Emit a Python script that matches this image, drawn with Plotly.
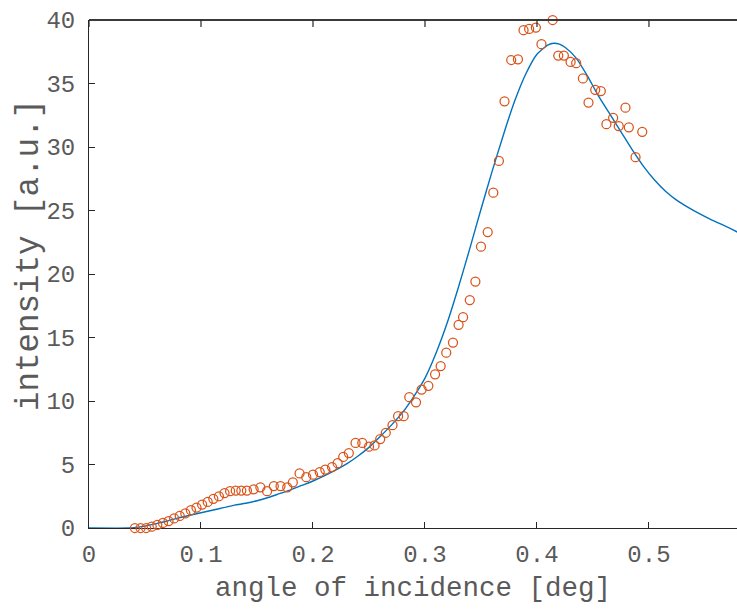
import plotly.graph_objects as go

# Measured reflectivity points (angle in deg, intensity in a.u.)
angle_meas = [0.041, 0.046, 0.051, 0.056, 0.061, 0.066, 0.071, 0.076, 0.081, 0.086,
              0.091, 0.096, 0.101, 0.106, 0.111, 0.116, 0.121, 0.126, 0.131, 0.136,
              0.141, 0.147, 0.153, 0.159, 0.165, 0.171, 0.177, 0.182, 0.188, 0.194,
              0.200, 0.206, 0.211, 0.217, 0.222, 0.227, 0.232, 0.238, 0.244, 0.250,
              0.255, 0.260, 0.265, 0.271, 0.276, 0.281, 0.286, 0.292, 0.297, 0.303,
              0.309, 0.314, 0.319, 0.325, 0.330, 0.334, 0.340, 0.345, 0.350, 0.356,
              0.361, 0.366, 0.371, 0.377, 0.383, 0.388, 0.393, 0.399, 0.404, 0.409,
              0.414, 0.419, 0.424, 0.430, 0.435, 0.441, 0.446, 0.452, 0.457, 0.462,
              0.468, 0.473, 0.479, 0.482, 0.488, 0.494]
intensity_meas = [0.0, 0.0, 0.0, 0.1, 0.25, 0.4, 0.55, 0.75, 0.95, 1.15,
                  1.4, 1.6, 1.85, 2.05, 2.3, 2.5, 2.75, 2.9, 2.95, 2.95,
                  2.95, 3.05, 3.2, 2.9, 3.3, 3.3, 3.2, 3.6, 4.3, 4.0,
                  4.2, 4.4, 4.6, 4.8, 5.1, 5.6, 5.9, 6.7, 6.7, 6.4,
                  6.5, 7.0, 7.5, 8.1, 8.8, 8.8, 10.3, 9.9, 10.9, 11.2,
                  12.1, 12.75, 13.8, 14.6, 16.0, 16.6, 17.95, 19.4, 22.15, 23.3,
                  26.4, 28.9, 33.6, 36.85, 36.9, 39.2, 39.3, 39.4, 38.1, 40.1,
                  40.0, 37.2, 37.2, 36.7, 36.6, 35.4, 33.5, 34.5, 34.4, 31.8,
                  32.3, 31.65, 33.1, 31.55, 29.2, 31.2]

# Simulated curve
angle_fit = [0.0, 0.036, 0.04, 0.05, 0.06, 0.07, 0.08, 0.09, 0.10, 0.11,
             0.12, 0.13, 0.14, 0.15, 0.16, 0.17, 0.18, 0.19, 0.20, 0.21,
             0.22, 0.23, 0.24, 0.25, 0.26, 0.27, 0.28, 0.29, 0.30, 0.31,
             0.32, 0.33, 0.34, 0.35, 0.36, 0.37, 0.38, 0.39, 0.40, 0.41,
             0.415, 0.42, 0.425, 0.435, 0.445, 0.455, 0.465, 0.475, 0.485, 0.495,
             0.505, 0.515, 0.525, 0.535, 0.545, 0.555, 0.565, 0.579]
intensity_fit = [0.0, 0.0, 0.03, 0.15, 0.35, 0.55, 0.8, 1.0, 1.2, 1.4,
                 1.6, 1.8, 1.95, 2.15, 2.4, 2.7, 3.0, 3.35, 3.7, 4.1,
                 4.55, 5.05, 5.65, 6.35, 7.2, 8.1, 9.1, 10.35, 11.8, 13.8,
                 16.2, 19.0, 22.0, 25.1, 28.1, 30.95, 33.6, 35.75, 37.3, 38.05,
                 38.17, 38.1, 37.85, 37.0, 35.6, 34.0, 32.6, 31.2, 29.8, 28.5,
                 27.4, 26.5, 25.8, 25.25, 24.75, 24.3, 23.9, 23.3]

x_ticks = [0, 0.1, 0.2, 0.3, 0.4, 0.5]
x_tick_text = ["0", "0.1", "0.2", "0.3", "0.4", "0.5"]
y_ticks = [0, 5, 10, 15, 20, 25, 30, 35, 40]

X_RANGE = [0, 0.5786]
Y_RANGE = [0, 40]

FONT = "Liberation Mono"
TEXT_COLOR = "#5a5a5a"
AXIS_COLOR = "#262626"

fig = go.Figure()
fig.add_trace(go.Scatter(
    x=angle_fit, y=intensity_fit, mode="lines",
    line=dict(color="#0072BD", width=1.4, shape="spline", smoothing=0.6),
    cliponaxis=False, showlegend=False, hoverinfo="skip",
))
fig.add_trace(go.Scatter(
    x=angle_meas, y=intensity_meas, mode="markers",
    marker=dict(symbol="circle-open", size=9, color="#D95319",
                line=dict(width=1.25, color="#D95319")),
    cliponaxis=False, showlegend=False,
))

axis_common = dict(
    ticks="inside", ticklen=6, tickwidth=1, tickcolor=AXIS_COLOR,
    showline=True, linecolor=AXIS_COLOR, linewidth=1,
    showgrid=False, zeroline=False,
    tickfont=dict(size=24, family=FONT, color=TEXT_COLOR),
)

fig.update_layout(
    width=737, height=610,
    margin=dict(l=89, r=0, t=20, b=82),
    paper_bgcolor="white", plot_bgcolor="white",
    font=dict(family=FONT, color=TEXT_COLOR, size=24),
    xaxis=dict(
        range=X_RANGE, tickvals=x_ticks, ticktext=x_tick_text,
        ticklabelstandoff=4, mirror=False, layer="below traces",
        title=dict(text="angle of incidence [deg]", standoff=8,
                   font=dict(size=27.5, family=FONT, color=TEXT_COLOR)),
        **axis_common,
    ),
    yaxis=dict(
        range=Y_RANGE, tickvals=y_ticks, mirror=False,
        ticklabelstandoff=8, layer="below traces",
        **axis_common,
    ),
    annotations=[dict(
        text="intensity [a.u.]", textangle=-90,
        xref="paper", yref="paper", x=-0.0926, y=0.5374,
        xanchor="center", yanchor="middle", showarrow=False,
        font=dict(size=32.5, family=FONT, color=TEXT_COLOR),
    )],
)

# top edge of the axes box, with inward ticks
shapes = [dict(type="line", xref="paper", yref="paper",
               x0=0, x1=1, y0=1, y1=1,
               line=dict(color="#3a3a3a", width=2), layer="above")]
for t in x_ticks:
    shapes.append(dict(type="line", xref="x", yref="paper",
                       x0=t, x1=t, y0=1, y1=1 - 7 / 508,
                       line=dict(color=AXIS_COLOR, width=1.2), layer="above"))
fig.update_layout(shapes=shapes)

fig.write_html("out.html")
